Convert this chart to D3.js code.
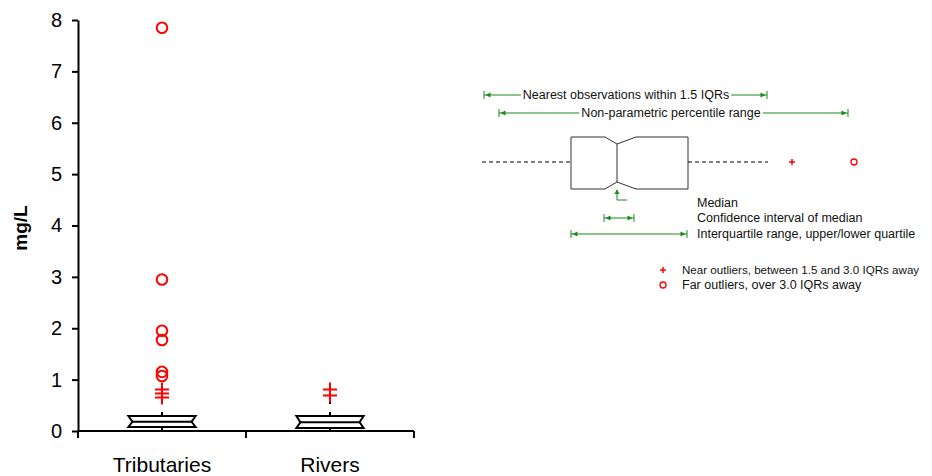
<!DOCTYPE html>
<html>
<head>
<meta charset="utf-8">
<script src="https://cdn.jsdelivr.net/npm/d3@7/dist/d3.min.js"></script>
<style>
  html, body { margin: 0; padding: 0; background: #fff; }
  svg { display: block; }
  text { font-family: "Liberation Sans", Arial, sans-serif; }
</style>
</head>
<body>
<svg id="chart" width="932" height="476"></svg>
<script>
// Box-plot summaries per site type (mg/L)
const categories   = ["Tributaries", "Rivers"];
const q1           = [0.08, 0.06];
const medians      = [0.18, 0.17];
const q3           = [0.29, 0.29];
const whiskerLow   = [0.0, 0.0];
const whiskerHigh  = [0.62, 0.64];
// near outliers (1.5–3.0 IQRs) and far outliers (> 3.0 IQRs)
const nearOutliers = [[0.81, 0.73, 0.65], [0.81, 0.69]];
const farOutliers  = [[7.85, 2.95, 1.95, 1.77, 1.15, 1.07], []];
const yTicks       = [0, 1, 2, 3, 4, 5, 6, 7, 8];
const yLabel       = "mg/L";

const svg = d3.select("#chart");
const RED = "#ff0000", GREEN = "#1a8a1a";

const x = d3.scaleBand().domain(categories).range([78, 414]).padding(0);
const y = d3.scaleLinear().domain([0, 8]).range([431, 20]);

// Y axis
const yAxis = svg.append("g").attr("transform", "translate(78,0)")
  .call(d3.axisLeft(y).tickValues(yTicks).tickSize(6).tickPadding(10).tickSizeOuter(0));
yAxis.select(".domain").attr("stroke", "#000").attr("stroke-width", 2);
yAxis.selectAll(".tick line").attr("stroke", "#000").attr("stroke-width", 2);
yAxis.selectAll(".tick text").attr("font-size", 20).attr("fill", "#000")
  .attr("font-family", "'Liberation Sans', Arial, sans-serif");

// X axis: baseline with ticks on band boundaries, labels at band centres
const xAxis = svg.append("g");
xAxis.append("line")
  .attr("x1", x.range()[0]).attr("x2", x.range()[1])
  .attr("y1", y(0)).attr("y2", y(0))
  .attr("stroke", "#000").attr("stroke-width", 2);
const bounds = categories.map(c => x(c)).concat([x(categories[categories.length - 1]) + x.bandwidth()]);
xAxis.selectAll("line.bt").data(bounds).join("line").attr("class", "bt")
  .attr("x1", d => d).attr("x2", d => d)
  .attr("y1", y(0)).attr("y2", y(0) + 7)
  .attr("stroke", "#000").attr("stroke-width", 2);
xAxis.selectAll("text").data(categories).join("text")
  .attr("x", d => x(d) + x.bandwidth() / 2)
  .attr("y", 472)
  .attr("text-anchor", "middle")
  .attr("font-size", 21)
  .text(d => d);

// Y title
svg.append("text")
  .attr("transform", "translate(27,228) rotate(-90)")
  .attr("text-anchor", "middle")
  .attr("font-size", 19).attr("font-weight", "bold")
  .text(yLabel);

// Boxes
const boxW = x.bandwidth() * 0.4;
const notch = 4;
const boxes = svg.append("g");
categories.forEach((c, i) => {
  const cx = x(c) + x.bandwidth() / 2;
  const L = cx - boxW / 2, R = cx + boxW / 2;
  const g = boxes.append("g");
  // whiskers (dashed)
  g.append("line")
    .attr("x1", cx).attr("x2", cx)
    .attr("y1", y(q3[i])).attr("y2", y(whiskerHigh[i]))
    .attr("stroke", "#000").attr("stroke-width", 2)
    .attr("stroke-dasharray", "4,8");
  g.append("line")
    .attr("x1", cx).attr("x2", cx)
    .attr("y1", y(q1[i])).attr("y2", y(whiskerLow[i]))
    .attr("stroke", "#000").attr("stroke-width", 2);
  // notched box
  const p = d3.path();
  p.moveTo(L, y(q3[i]));
  p.lineTo(R, y(q3[i]));
  p.lineTo(R - notch, y(medians[i]));
  p.lineTo(R, y(q1[i]));
  p.lineTo(L, y(q1[i]));
  p.lineTo(L + notch, y(medians[i]));
  p.closePath();
  g.append("path").attr("d", p.toString())
    .attr("fill", "#fff").attr("stroke", "#000").attr("stroke-width", 2)
    .attr("stroke-linejoin", "miter");
  g.append("line")
    .attr("x1", L + notch).attr("x2", R - notch)
    .attr("y1", y(medians[i])).attr("y2", y(medians[i]))
    .attr("stroke", "#000").attr("stroke-width", 2);
  // near outliers: plus signs
  g.selectAll("path.near").data(nearOutliers[i]).join("path").attr("class", "near")
    .attr("d", d => `M${cx - 7},${y(d)}H${cx + 7}M${cx},${y(d) - 7}V${y(d) + 7}`)
    .attr("stroke", RED).attr("stroke-width", 2).attr("fill", "none");
  // far outliers: open circles
  g.selectAll("circle.far").data(farOutliers[i]).join("circle").attr("class", "far")
    .attr("cx", cx).attr("cy", d => y(d)).attr("r", 5.3)
    .attr("fill", "none").attr("stroke", RED).attr("stroke-width", 2);
});

// Key explaining the box-plot elements
const key = svg.append("g").attr("font-size", 12.5).attr("fill", "#111");

function arrowHead(gr, tx, ty, dir) {
  // dir: "l", "r", "u"
  let pts;
  if (dir === "l") pts = [[tx, ty], [tx + 5, ty - 2.5], [tx + 5, ty + 2.5]];
  else if (dir === "r") pts = [[tx, ty], [tx - 5, ty - 2.5], [tx - 5, ty + 2.5]];
  else pts = [[tx, ty], [tx - 2.5, ty + 5], [tx + 2.5, ty + 5]];
  gr.append("path").attr("d", d3.line()(pts) + "Z").attr("fill", GREEN);
}
function span(x1, x2, yy, label, labelX) {
  const gr = key.append("g");
  gr.append("line").attr("x1", x1).attr("x2", x2).attr("y1", yy).attr("y2", yy)
    .attr("stroke", GREEN).attr("stroke-width", 1);
  [x1, x2].forEach(xx => gr.append("line").attr("x1", xx).attr("x2", xx)
    .attr("y1", yy - 4).attr("y2", yy + 4).attr("stroke", GREEN).attr("stroke-width", 1));
  arrowHead(gr, x1 + 1.5, yy, "l");
  arrowHead(gr, x2 - 1.5, yy, "r");
  if (label) {
    const t = gr.append("text").attr("x", labelX).attr("y", yy).attr("dy", "0.35em")
      .attr("text-anchor", "middle").text(label);
    const bb = t.node().getBBox();
    gr.insert("rect", "text").attr("x", bb.x - 2).attr("y", bb.y).attr("width", bb.width + 4)
      .attr("height", bb.height).attr("fill", "#fff");
  }
}
span(484, 767, 95, "Nearest observations within 1.5 IQRs", 626);
span(499, 848, 113, "Non-parametric percentile range", 671);

// sample box
key.append("path")
  .attr("d", "M571,137L605,137L617,144L636,137L688,137L688,189L636,189L617,182L605,189L571,189Z")
  .attr("fill", "none").attr("stroke", "#333").attr("stroke-width", 1);
key.append("line").attr("x1", 617).attr("x2", 617).attr("y1", 144).attr("y2", 182)
  .attr("stroke", "#333").attr("stroke-width", 1);
[[482, 571], [688, 768]].forEach(([a, b]) => key.append("line")
  .attr("x1", a).attr("x2", b).attr("y1", 162).attr("y2", 162)
  .attr("stroke", "#000").attr("stroke-width", 1).attr("stroke-dasharray", "4,3"));
key.append("path").attr("d", "M789,162H795M792,159V165")
  .attr("stroke", RED).attr("stroke-width", 1.5);
key.append("circle").attr("cx", 854).attr("cy", 162).attr("r", 3)
  .attr("fill", "none").attr("stroke", RED).attr("stroke-width", 1.3);

// median pointer
const mp = key.append("g");
mp.append("path").attr("d", "M617,193V200H627").attr("fill", "none")
  .attr("stroke", GREEN).attr("stroke-width", 1);
arrowHead(mp, 617, 189, "u");
key.append("text").attr("x", 697).attr("y", 203).attr("dy", "0.35em").text("Median");

span(604, 634, 218, null, 0);
key.append("text").attr("x", 697).attr("y", 218).attr("dy", "0.35em").text("Confidence interval of median");
span(571, 687, 234, null, 0);
key.append("text").attr("x", 697).attr("y", 234).attr("dy", "0.35em").text("Interquartile range, upper/lower quartile");

key.append("path").attr("d", "M660,270H666M663,267V273")
  .attr("stroke", RED).attr("stroke-width", 1.5);
key.append("text").attr("x", 682).attr("y", 270).attr("dy", "0.35em").attr("font-size", 11.6)
  .text("Near outliers, between 1.5 and 3.0 IQRs away");
key.append("circle").attr("cx", 663).attr("cy", 285).attr("r", 3)
  .attr("fill", "none").attr("stroke", RED).attr("stroke-width", 1.3);
key.append("text").attr("x", 682).attr("y", 285).attr("dy", "0.35em").text("Far outliers, over 3.0 IQRs away");
</script>
</body>
</html>
